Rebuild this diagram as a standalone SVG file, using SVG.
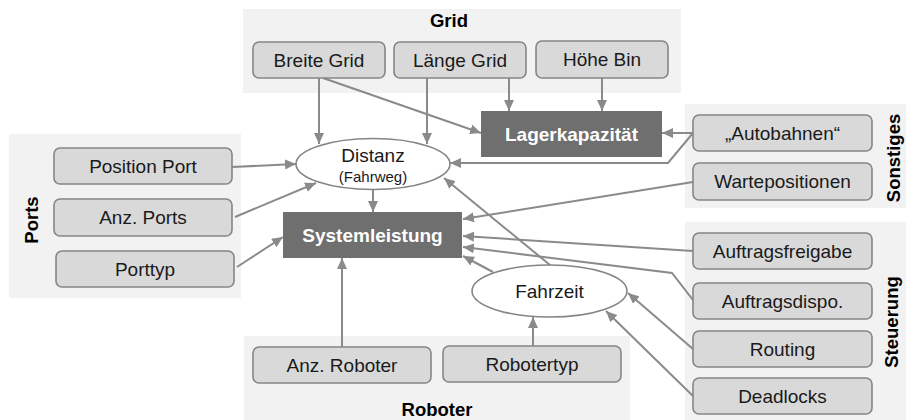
<svg xmlns="http://www.w3.org/2000/svg" width="906" height="420" viewBox="0 0 906 420">
<defs>
<style>
.bg{fill:#f2f2f2;stroke:none}
.box{fill:#d9d9d9;stroke:#858585;stroke-width:1.6}
.dark{fill:#6f6f6f;stroke:none}
.ell{fill:#ffffff;stroke:#858585;stroke-width:1.6}
.lbl{font-family:"Liberation Sans",Arial,sans-serif;font-size:19px;fill:#1a1a1a;text-anchor:middle}
.small{font-family:"Liberation Sans",Arial,sans-serif;font-size:15px;fill:#1a1a1a;text-anchor:middle}
.dlbl{font-family:"Liberation Sans",Arial,sans-serif;font-size:19px;font-weight:bold;fill:#ffffff;text-anchor:middle}
.title{font-family:"Liberation Sans",Arial,sans-serif;font-size:18.5px;font-weight:bold;fill:#000000;text-anchor:middle}
.conn{fill:none;stroke:#8a8a8a;stroke-width:2;marker-end:url(#arr)}
</style>
<marker id="arr" markerUnits="userSpaceOnUse" markerWidth="11" markerHeight="10" refX="11" refY="5" orient="auto">
<path d="M0,0 L11,5 L0,10 z" fill="#8a8a8a"/>
</marker>
</defs>

<g id="groups">
<rect class="bg" x="243" y="9" width="438" height="84"/>
<rect class="bg" x="9" y="134" width="232" height="164"/>
<rect class="bg" x="244" y="336" width="386" height="84"/>
<rect class="bg" x="685" y="104" width="221" height="104"/>
<rect class="bg" x="685" y="222" width="221" height="198"/>
<text class="title" x="449" y="27">Grid</text>
<text class="title" x="437" y="416">Roboter</text>
<text class="title" transform="translate(38,220) rotate(-90)">Ports</text>
<text class="title" transform="translate(900,158) rotate(-90)">Sonstiges</text>
<text class="title" transform="translate(898,322) rotate(-90)">Steuerung</text>
</g>

<g id="connectors">
<path class="conn" d="M319,78 L319,144"/>
<path class="conn" d="M323,78 L481,133"/>
<path class="conn" d="M427,78 L427,144"/>
<path class="conn" d="M509,78 L509,111"/>
<path class="conn" d="M602,78 L602,111"/>
<path class="conn" d="M232,167 L296,164"/>
<path class="conn" d="M235,217 L316,183"/>
<path class="conn" d="M237,267 L283,237"/>
<path class="conn" d="M373,190 L373,212"/>
<path class="conn" d="M342,347 L342,258"/>
<path class="conn" d="M533,346 L533,317"/>
<path class="conn" d="M493,272 L463,256"/>
<path class="conn" d="M550,265 L444,178"/>
<path class="conn" d="M693,133 L662,133"/>
<path class="conn" d="M693,133 L668,163 L450,163"/>
<path class="conn" d="M693,182 L463,219"/>
<path class="conn" d="M693,251 L463,236"/>
<path class="conn" d="M693,300 L672,273 L463,247"/>
<path class="conn" d="M693,349 L628,293"/>
<path class="conn" d="M693,396 L606,311"/>
</g>

<g id="breite-grid"><rect class="box" x="253" y="42" width="132" height="36" rx="6"/><text class="lbl" x="319" y="66.5">Breite Grid</text></g>
<g id="laenge-grid"><rect class="box" x="394" y="42" width="132" height="36" rx="6"/><text class="lbl" x="460" y="66.5">Länge Grid</text></g>
<g id="hoehe-bin"><rect class="box" x="536" y="41" width="132" height="37" rx="6"/><text class="lbl" x="602" y="66">Höhe Bin</text></g>
<g id="lagerkapazitaet"><rect class="dark" x="481" y="111" width="181" height="46"/><text class="dlbl" x="571.5" y="140.5">Lagerkapazität</text></g>
<g id="distanz"><ellipse class="ell" cx="373" cy="164" rx="77" ry="25.5"/><text class="lbl" x="373" y="162">Distanz</text><text class="small" x="373" y="182">(Fahrweg)</text></g>
<g id="position-port"><rect class="box" x="54" y="148" width="178" height="36" rx="6"/><text class="lbl" x="143" y="172.5">Position Port</text></g>
<g id="anz-ports"><rect class="box" x="54" y="199" width="178" height="37" rx="6"/><text class="lbl" x="143" y="224">Anz. Ports</text></g>
<g id="porttyp"><rect class="box" x="56" y="251" width="178" height="36" rx="6"/><text class="lbl" x="145" y="275.5">Porttyp</text></g>
<g id="systemleistung"><rect class="dark" x="283" y="212" width="179" height="46"/><text class="dlbl" x="372.5" y="241.5">Systemleistung</text></g>
<g id="fahrzeit"><ellipse class="ell" cx="549.5" cy="291" rx="77.5" ry="26"/><text class="lbl" x="549.5" y="298">Fahrzeit</text></g>
<g id="anz-roboter"><rect class="box" x="253" y="347" width="178" height="36" rx="6"/><text class="lbl" x="342" y="371.5">Anz. Roboter</text></g>
<g id="robotertyp"><rect class="box" x="443" y="346" width="178" height="36" rx="6"/><text class="lbl" x="532" y="370.5">Robotertyp</text></g>
<g id="autobahnen"><rect class="box" x="693" y="115" width="179" height="36" rx="6"/><text class="lbl" x="782.5" y="139.5">„Autobahnen“</text></g>
<g id="wartepositionen"><rect class="box" x="693" y="163" width="179" height="37" rx="6"/><text class="lbl" x="782.5" y="188">Wartepositionen</text></g>
<g id="auftragsfreigabe"><rect class="box" x="693" y="233" width="179" height="36" rx="6"/><text class="lbl" x="782.5" y="257.5">Auftragsfreigabe</text></g>
<g id="auftragsdispo"><rect class="box" x="693" y="283" width="179" height="36" rx="6"/><text class="lbl" x="782.5" y="307.5">Auftragsdispo.</text></g>
<g id="routing"><rect class="box" x="693" y="331" width="179" height="36" rx="6"/><text class="lbl" x="782.5" y="355.5">Routing</text></g>
<g id="deadlocks"><rect class="box" x="693" y="378" width="179" height="36" rx="6"/><text class="lbl" x="782.5" y="402.5">Deadlocks</text></g>
</svg>
